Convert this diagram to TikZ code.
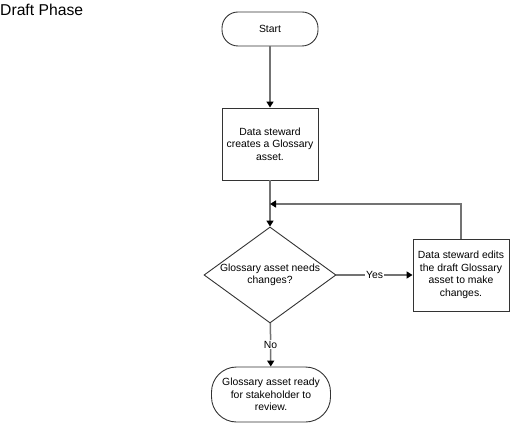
\documentclass[tikz,border=0pt]{standalone}
\usepackage{fontspec}
\setmainfont{Liberation Sans}
\usetikzlibrary{shapes.geometric,arrows.meta,positioning}

\tikzset{
  base/.style={draw=black!80, line width=0.9pt, align=center,
    font=\fontsize{10.4}{12.5}\selectfont},
  terminal/.style={base, rectangle, inner sep=0pt},
  process/.style={base, rectangle, minimum width=96pt, minimum height=72pt, inner sep=0pt},
  decision/.style={base, diamond, minimum width=132pt, minimum height=96pt,
    inner xsep=-3pt, inner ysep=0pt, aspect=1.375},
  flow/.style={draw=black!55, line width=1.5pt, -{Triangle[width=7pt,length=6pt,color=black]}},
  lbl/.style={fill=white, inner sep=1pt, font=\fontsize{10.4}{12.5}\selectfont}
}

\begin{document}
\begin{tikzpicture}[x=1pt, y=1pt]
    \useasboundingbox (0,0) rectangle (510,423);
    \node[anchor=base west, inner sep=0pt, font=\fontsize{15.7}{18}\selectfont] (title) at (0,407.5) {Draft Phase};
    \node[terminal, minimum width=96pt, minimum height=34pt, rounded corners=16pt] (start) at (270,394) {Start};
    \node[process] (create) at (270,279) {Data steward\\creates a Glossary\\asset.};
    \node[decision] (needs) at (270,148) {Glossary asset needs\\changes?};
    \node[process] (edit) at (461,148) {Data steward edits\\the draft Glossary\\asset to make\\changes.};
    \node[terminal, minimum width=119pt, minimum height=55pt, rounded corners=25pt] (ready) at (271,28.5) {Glossary asset ready\\for stakeholder to\\review.};
    \coordinate (join) at (270,219);
    \draw[flow] (start) -- (create);
    \draw[flow] (create) -- (needs);
    \draw[flow] (needs) -- node[lbl] {Yes} (edit);
    \draw[flow] (edit.north) |- (join);
    \draw[flow] (needs) -- node[lbl] {No} (ready);
\end{tikzpicture}
\end{document}
